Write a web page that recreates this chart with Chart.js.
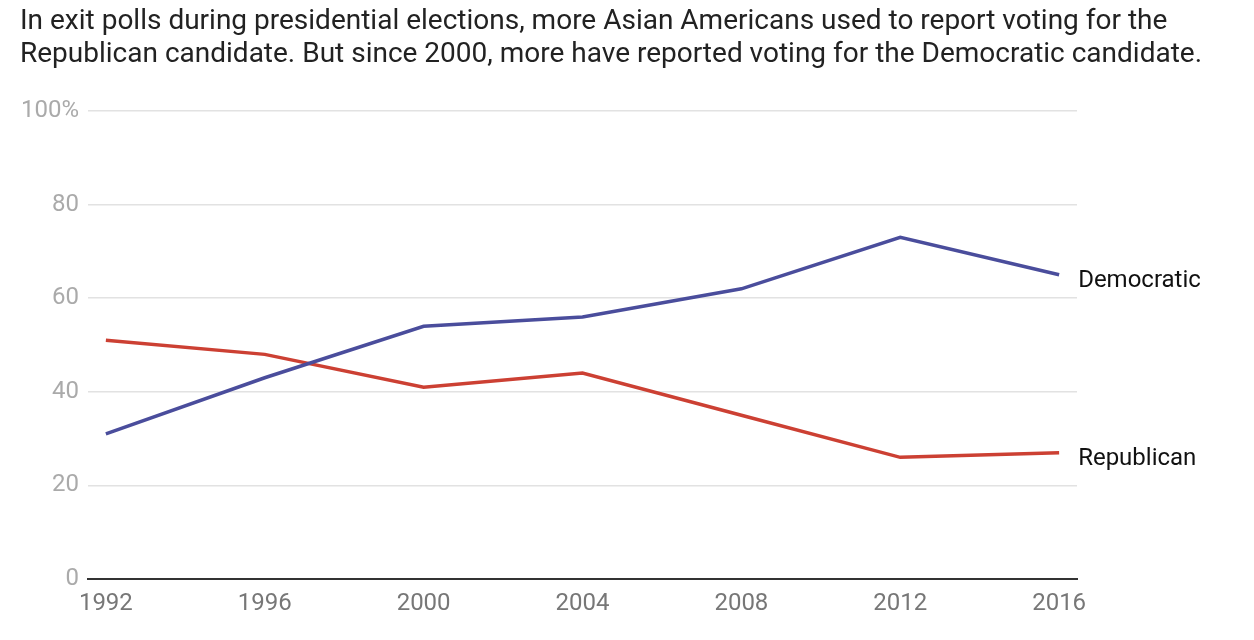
<!DOCTYPE html>
<html>
<head>
<meta charset="utf-8">
<script src="https://cdn.jsdelivr.net/npm/chart.js@4"></script>
<style>
  body { margin: 0; background: #fff; font-family: Roboto, sans-serif; }
  #wrap { position: relative; width: 1254px; height: 640px; }
  #title { position: absolute; left: 20px; top: 3px; font-size: 28px; line-height: 33px; color: #222; }
  #chart { position: absolute; left: 0; top: 0; }
</style>
</head>
<body>
<div id="wrap">
  <canvas id="chart" width="1254" height="640"></canvas>
  <div id="title">In exit polls during presidential elections, more Asian Americans used to report voting for the<br>Republican candidate. But since 2000, more have reported voting for the Democratic candidate.</div>
</div>
<script>
const years = [1992, 1996, 2000, 2004, 2008, 2012, 2016]
const demValues = [31, 43, 54, 56, 62, 73, 65]
const repValues = [51, 48, 41, 44, 35, 26, 27]
const yTicks = [0, 20, 40, 60, 80, 100]

const colors = ['#4a4d9c', '#cc4033']

const toPoints = (vals) => vals.map((v, i) => ({ x: years[i], y: v }))

// labels at the end of each line
const endLabels = {
    id: 'endLabels',
    afterDatasetsDraw (chart) {
        const ctx = chart.ctx
        ctx.save()
        ctx.font = '24px Roboto'
        ctx.fillStyle = '#111'
        ctx.textBaseline = 'middle'
        chart.data.datasets.forEach((ds, i) => {
            const pts = chart.getDatasetMeta(i).data
            const last = pts[pts.length - 1]
            ctx.fillText(ds.label, last.x + 19, last.y + 6)
        })
        ctx.restore()
    }
}

const crt = document.getElementById('chart')

new Chart(crt, {
    type: 'line',
    data: {
        datasets: [
            {
                label: 'Democratic',
                data: toPoints(demValues),
                borderColor: colors[0],
                borderWidth: 3.5
            },
            {
                label: 'Republican',
                data: toPoints(repValues),
                borderColor: colors[1],
                borderWidth: 3.5
            }
        ]
    },
    options: {
        responsive: false,
        animation: false,
        elements: { point: { radius: 0 }, line: { tension: 0 } },
        layout: { padding: { top: 111, right: 177, left: 0, bottom: 0 } },
        plugins: { legend: { display: false }, tooltip: { enabled: false } },
        scales: {
            x: {
                type: 'linear',
                min: 1991.55,
                max: 2016.45,
                afterBuildTicks: (axis) => { axis.ticks = years.map(v => ({ value: v })) },
                afterFit: (axis) => { axis.height = 61 },
                grid: { display: false, drawTicks: false },
                border: { display: true, color: '#333', width: 2 },
                ticks: {
                    color: '#777',
                    font: { family: 'Roboto', size: 24 },
                    padding: 11,
                    maxRotation: 0,
                    autoSkip: false,
                    callback: (v) => String(v)
                }
            },
            y: {
                min: 0,
                max: 100,
                afterBuildTicks: (axis) => { axis.ticks = yTicks.map(v => ({ value: v })) },
                afterFit: (axis) => { axis.width = 88 },
                grid: { color: '#e2e2e2', lineWidth: 1.5, drawTicks: false },
                border: { display: false },
                ticks: {
                    color: '#aaa',
                    font: { family: 'Roboto', size: 24 },
                    padding: 9,
                    callback: (v) => v === 100 ? '100%' : String(v)
                }
            }
        }
    },
    plugins: [endLabels]
})
</script>
</body>
</html>
